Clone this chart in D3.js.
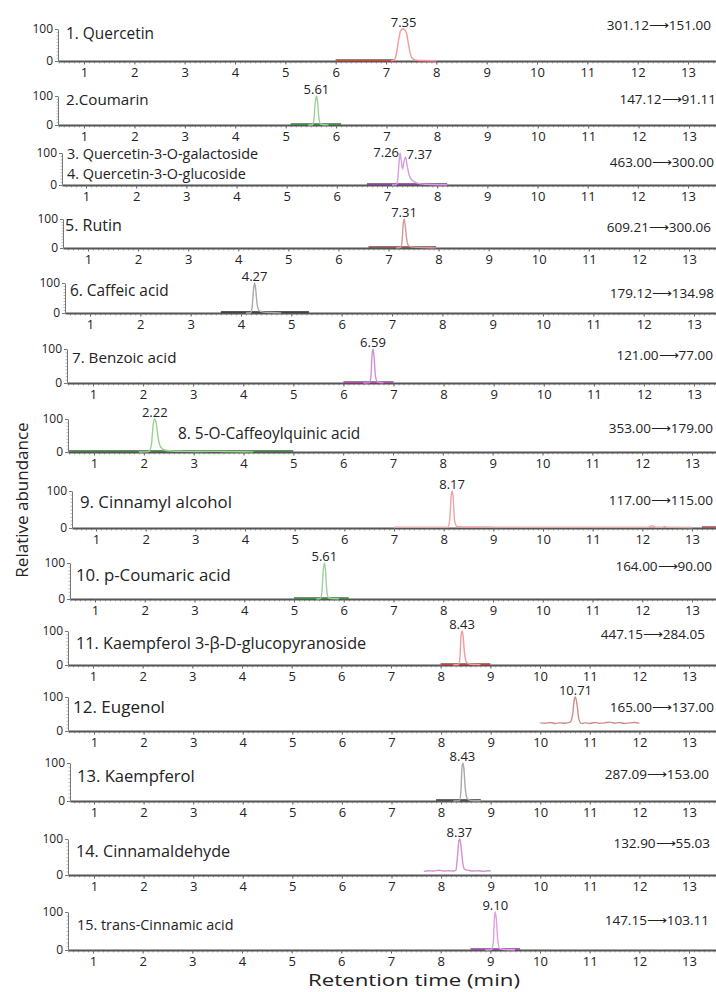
<!DOCTYPE html>
<html>
<head>
<meta charset="utf-8">
<script src="https://cdn.jsdelivr.net/npm/d3@7"></script>
<style>
  body { margin: 0; background: #fff; }
  text { font-family: "Open Sans", "Noto Sans", sans-serif; fill: #222; }
</style>
</head>
<body>
<svg id="chart" width="716" height="992"></svg>
<script>
// ---- data ----
const compounds = [
  ["1. Quercetin"],
  ["2.Coumarin"],
  ["3. Quercetin-3-O-galactoside", "4. Quercetin-3-O-glucoside"],
  ["5. Rutin"],
  ["6. Caffeic acid"],
  ["7. Benzoic acid"],
  ["8. 5-O-Caffeoylquinic acid"],
  ["9. Cinnamyl alcohol"],
  ["10. p-Coumaric acid"],
  ["11. Kaempferol 3-\u03B2-D-glucopyranoside"],
  ["12. Eugenol"],
  ["13. Kaempferol"],
  ["14. Cinnamaldehyde"],
  ["15. trans-Cinnamic acid"]
];
const transitions = [
  "301.12\u27F6151.00", "147.12\u27F691.11", "463.00\u27F6300.00", "609.21\u27F6300.06",
  "179.12\u27F6134.98", "121.00\u27F677.00", "353.00\u27F6179.00", "117.00\u27F6115.00",
  "164.00\u27F690.00", "447.15\u27F6284.05", "165.00\u27F6137.00", "287.09\u27F6153.00",
  "132.90\u27F655.03", "147.15\u27F6103.11"
];
// retention times labelled at each peak
const peakTimes = [[7.35], [5.61], [7.26, 7.37], [7.31], [4.27], [6.59], [2.22], [8.17],
  [5.61], [8.43], [10.71], [8.43], [8.37], [9.10]];
// darker baseline stretch under each trace [start, end] (min)
const baseSegments = [[6.0, 7.15], [5.1, 6.1], [6.6, 8.2], [6.6, 7.95], [3.6, 5.35], [6.0, 7.0],
  [0.5, 5.0], [13.2, 13.6], [5.0, 6.1], [8.0, 9.0], null, [7.9, 8.8], null, [8.6, 9.6]];

const trace1 = [[7.1,0.5],[7.17,4],[7.21,25],[7.25,65],[7.29,94],[7.33,100],[7.37,98],[7.41,85],[7.45,50],[7.49,18],[7.54,6],[7.62,2.5],[7.75,1.5],[8.0,1]];
const trace2 = [[5.45,0],[5.53,1],[5.56,18],[5.585,75],[5.61,100],[5.635,78],[5.66,22],[5.69,4],[5.75,1],[5.85,0.5]];
const trace3 = [[7.1,0],[7.18,1],[7.21,12],[7.24,70],[7.26,100],[7.28,82],[7.31,50],[7.34,74],[7.37,88],[7.4,62],[7.44,32],[7.5,15],[7.6,6],[7.75,2.5],[8.2,1]];
const trace5 = [[7.15,0.5],[7.24,1.5],[7.27,20],[7.29,75],[7.31,100],[7.33,82],[7.36,35],[7.39,10],[7.45,4],[7.6,2],[7.8,1],[7.95,0.5]];
const trace6 = [[4.1,0],[4.19,1],[4.22,18],[4.25,80],[4.27,100],[4.29,82],[4.32,30],[4.36,8],[4.45,3],[4.6,1.5],[4.8,0.5]];
const trace7 = [[6.4,0],[6.52,1],[6.55,20],[6.57,80],[6.59,100],[6.61,80],[6.64,20],[6.68,3],[6.8,0.5]];
const trace8 = [[1.9,0],[2.1,1],[2.15,20],[2.19,85],[2.22,100],[2.25,85],[2.29,40],[2.34,15],[2.42,6],[2.55,3],[2.8,2],[3.1,1.5],[3.5,2],[3.7,1],[4.2,0.5]];
const trace9 = [[7.0,2],[8.08,2],[8.12,20],[8.15,85],[8.17,100],[8.19,85],[8.22,20],[8.27,4],[8.4,3],[9.0,2.5],[10.0,2],[11.0,2],[12.1,2],[12.2,6],[12.28,2],[12.4,2],[12.45,4.5],[12.5,2],[13.0,1.5],[13.6,1]];
const trace10 = [[5.45,0],[5.53,1],[5.56,18],[5.585,75],[5.61,100],[5.635,78],[5.66,22],[5.69,4],[5.75,1],[5.9,0.5]];
const trace11 = [[8.25,0.5],[8.36,1.5],[8.39,25],[8.41,85],[8.43,100],[8.45,88],[8.48,35],[8.52,8],[8.6,2],[8.8,1]];
const trace12 = [[10.0,24],[10.1,23],[10.2,25],[10.3,22],[10.4,24],[10.5,23],[10.6,26],[10.65,45],[10.69,95],[10.71,100],[10.74,80],[10.78,35],[10.83,22],[10.9,24],[11.0,22],[11.1,25],[11.2,23],[11.3,24],[11.4,26],[11.5,23],[11.6,25],[11.7,22],[11.8,24],[11.9,25],[12.0,23]];
const trace13 = [[8.25,0],[8.37,1],[8.40,25],[8.42,85],[8.44,100],[8.46,85],[8.49,30],[8.53,6],[8.6,1.5],[8.8,0.5]];
const trace14 = [[7.65,10],[7.75,12],[7.85,11],[7.95,13],[8.05,11],[8.15,12],[8.25,11],[8.3,14],[8.33,50],[8.36,95],[8.38,100],[8.41,70],[8.44,30],[8.48,15],[8.55,13],[8.65,11],[8.75,12],[8.85,10],[8.95,12],[9.0,11]];
const trace15 = [[8.9,0],[9.02,1],[9.06,20],[9.08,80],[9.10,100],[9.12,82],[9.15,25],[9.19,4],[9.3,1],[9.5,0.5]];
const traces = [trace1, trace2, trace3, trace5, trace6, trace7, trace8, trace9, trace10,
  trace11, trace12, trace13, trace14, trace15];
const xTicks = d3.range(1, 14);

// ---- styles ----
const peakColors = ["#f29b9b", "#9fd19a", "#d79ee0", "#d49a9a", "#aaaaaa", "#d58fd5", "#9ccf94",
  "#f4a3a3", "#9fd19a", "#f29b9b", "#d08c8c", "#aaaaaa", "#d58fd5", "#e0a0e6"];
const baseColors = ["#c0392b", "#2e7d32", "#7b2d8e", "#8b3a3a", "#222222", "#9b3c9b", "#2e6b2a",
  "#a83a3a", "#2e7d32", "#c62828", null, "#333333", null, "#8e3a9e"];

// ---- layout (pixels, per pasted panel) ----
const yTop  = [29, 96, 153, 219, 283, 349, 419, 491, 563, 631, 697, 763, 839, 912];
const yBase = [61, 125, 185, 248, 313, 383, 452, 528, 599, 665, 731, 801, 875, 950];
const xAt1  = [84, 84, 86, 88, 90, 93, 94, 96, 95, 93, 94, 94, 94, 93];
const xAt13 = [688, 689, 688, 689, 694, 694, 692, 692, 692, 689, 689, 689, 689, 689];
const axisX = [58, 58, 62, 63, 65, 67, 68, 72, 70, 68, 68, 70, 68, 68];
const nameX = [66, 66, 67, 65, 70, 72, 178, 80, 76, 76, 73, 77, 76, 77];
const nameY = [34, 100, 154, 225, 291, 358, 434, 502, 575, 643, 707, 776, 851, 925];
const nameSize = [15.4, 15.2, 14.4, 16, 15.4, 15.2, 15.4, 16.8, 16.8, 16.2, 17, 16.6, 16.2, 14.4];
const transX = [711, 716, 714, 711, 714, 713, 713, 713, 712, 705, 714, 709, 710, 709];
const transY = [25, 99, 162, 227, 293, 355, 428, 500, 566, 634, 707, 774, 843, 920];
const W = 716;

const svg = d3.select("#chart");

compounds.forEach((names, i) => {
  const x = d3.scaleLinear().domain([1, 13]).range([xAt1[i], xAt13[i]]);
  const d0 = x.invert(axisX[i]), d1 = x.invert(W);
  x.domain([d0, d1]).range([axisX[i], W]);
  const y = d3.scaleLinear().domain([0, 100]).range([yBase[i], yTop[i]]);
  const g = svg.append("g");

  // minor x ticks
  const minor = d3.range(Math.ceil(d0 * 10), Math.floor(d1 * 10) + 1).map(v => v / 10);
  g.append("g").attr("transform", `translate(0,${yBase[i]})`)
    .call(d3.axisBottom(x).tickValues(minor).tickSize(2.5).tickFormat(""))
    .call(a => a.select(".domain").remove())
    .call(a => a.selectAll("line").attr("stroke", "#8a8a8a").attr("stroke-width", 0.7));
  // major x ticks + labels
  g.append("g").attr("transform", `translate(0,${yBase[i]})`)
    .call(d3.axisBottom(x).tickValues(xTicks).tickSize(3.5).tickPadding(3).tickSizeOuter(0).tickFormat(d3.format("d")))
    .call(a => a.select(".domain").attr("stroke", "#555").attr("stroke-width", 2))
    .call(a => a.selectAll("line").attr("stroke", "#666"))
    .call(a => a.selectAll("text").style("font-size", "13px").attr("fill", "#222")
      .style("font-family", '"Open Sans", sans-serif'));

  // y axis
  g.append("g").attr("transform", `translate(${axisX[i]},0)`)
    .call(d3.axisLeft(y).tickValues(d3.range(10, 100, 10)).tickSize(1.5).tickFormat(""))
    .call(a => a.select(".domain").remove())
    .call(a => a.selectAll("line").attr("stroke", "#999").attr("stroke-width", 0.7));
  g.append("g").attr("transform", `translate(${axisX[i]},0)`)
    .call(d3.axisLeft(y).tickValues([0, 100]).tickSize(3).tickPadding(2).tickSizeOuter(0))
    .call(a => a.select(".domain").attr("stroke", "#777").attr("stroke-width", 1))
    .call(a => a.selectAll("line").attr("stroke", "#777"))
    .call(a => a.selectAll("text").style("font-size", "12px").attr("fill", "#222")
      .style("font-family", '"Open Sans", sans-serif'));

  // trace
  const line = d3.line().x(d => x(d[0])).y(d => y(d[1])).curve(d3.curveMonotoneX);
  if (baseSegments[i] && baseColors[i]) {
    const s = baseSegments[i];
    g.append("line")
      .attr("x1", x(Math.max(s[0], d0))).attr("x2", x(Math.min(s[1], d1)))
      .attr("y1", y(0) - 1).attr("y2", y(0) - 1)
      .attr("stroke", baseColors[i]).attr("stroke-width", 1.4);
  }
  g.append("path").datum(traces[i].filter(d => d[0] <= d1))
    .attr("d", line).attr("fill", "none")
    .attr("stroke", peakColors[i]).attr("stroke-width", 1.4);

  // peak labels: single peaks centred above, a pair sits either side of the tops
  const pts = peakTimes[i];
  pts.forEach((t, k) => {
    const single = pts.length === 1;
    g.append("text")
      .attr("x", x(t) + (single ? 0 : (k === 0 ? -1 : 1)))
      .attr("y", single ? y(100) - 2 : y(100) + 4 + k * 2)
      .attr("text-anchor", single ? "middle" : (k === 0 ? "end" : "start"))
      .style("font-size", "13px")
      .text(t.toFixed(2));
  });

  // compound names
  names.forEach((n, k) => {
    g.append("text")
      .attr("x", nameX[i]).attr("y", nameY[i] + k * 20)
      .attr("dy", "0.35em")
      .style("font-size", nameSize[i] + "px")
      .text(n);
  });

  // MRM transition
  g.append("text")
    .attr("x", transX[i]).attr("y", transY[i]).attr("dy", "0.35em")
    .attr("text-anchor", "end")
    .style("font-size", "13.5px")
    .text(transitions[i]);
});

// axis titles
svg.append("text")
  .attr("x", 414).attr("y", 986)
  .attr("text-anchor", "middle")
  .attr("textLength", 212).attr("lengthAdjust", "spacingAndGlyphs")
  .style("font-size", "17px")
  .text("Retention time (min)");
svg.append("text")
  .attr("transform", "translate(28,500) rotate(-90)")
  .attr("text-anchor", "middle")
  .style("font-size", "17px")
  .text("Relative abundance");
</script>
</body>
</html>
